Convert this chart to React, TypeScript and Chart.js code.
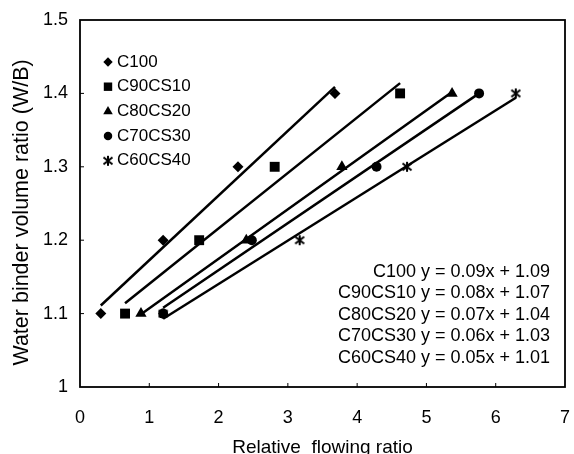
import React, { useEffect, useRef } from 'react';
import { Chart, registerables } from 'chart.js';
import { drawPoint } from 'chart.js/helpers';

Chart.register(...registerables);

const seriesNames = ['C100', 'C90CS10', 'C80CS20', 'C70CS30', 'C60CS40'];
const wbRatio = [1.1, 1.2, 1.3, 1.4];
const c100Flow = [0.3, 1.2, 2.28, 3.68];
const c90cs10Flow = [0.65, 1.72, 2.81, 4.62];
const c80cs20Flow = [0.88, 2.4, 3.78, 5.37];
const c70cs30Flow = [1.2, 2.48, 4.28, 5.76];
const c60cs40Flow = [1.2, 3.17, 4.72, 6.29];
const trendStartX = [0.3, 0.65, 0.88, 1.2, 1.2];
const trendStartY = [1.111, 1.114, 1.099, 1.108, 1.093];
const trendEndX = [3.68, 4.62, 5.37, 5.76, 6.29];
const trendEndY = [1.409, 1.414, 1.402, 1.4, 1.394];
const equations = [
  'y = 0.09x + 1.09',
  'y = 0.08x + 1.07',
  'y = 0.07x + 1.04',
  'y = 0.06x + 1.03',
  'y = 0.05x + 1.01',
];
const xTickLabels = ['0', '1', '2', '3', '4', '5', '6', '7'];
const yTickLabels = ['1', '1.1', '1.2', '1.3', '1.4', '1.5'];

const FONT = "'Liberation Sans', Arial, sans-serif";

function makeAsterisk(): HTMLCanvasElement {
  const c = document.createElement('canvas');
  c.width = 12;
  c.height = 12;
  const g = c.getContext('2d')!;
  g.strokeStyle = '#000';
  g.lineWidth = 2;
  g.beginPath();
  g.moveTo(6, 1); g.lineTo(6, 11);
  g.moveTo(1.5, 2.5); g.lineTo(10.5, 9.5);
  g.moveTo(1.5, 9.5); g.lineTo(10.5, 2.5);
  g.stroke();
  return c;
}

export default function App() {
  const ref = useRef<HTMLCanvasElement>(null);
  useEffect(() => {
    const flows = [c100Flow, c90cs10Flow, c80cs20Flow, c70cs30Flow, c60cs40Flow];
    const asterisk = makeAsterisk();
    const styles: any[] = ['rectRot', 'rect', 'triangle', 'circle', asterisk];
    const radii = [5.5, 7, 6.5, 5, 6];

    const scatterSets = flows.map((f, i) => ({
      label: seriesNames[i],
      data: f.map((x, j) => ({ x, y: wbRatio[j] })),
      showLine: false,
      pointStyle: styles[i],
      pointRadius: radii[i],
      backgroundColor: '#000',
      borderColor: '#000',
      borderWidth: 0,
      order: 1,
    }));
    const trendSets = seriesNames.map((n, i) => ({
      label: n + ' trend',
      data: [
        { x: trendStartX[i], y: trendStartY[i] },
        { x: trendEndX[i], y: trendEndY[i] },
      ],
      showLine: true,
      pointRadius: 0,
      borderColor: '#000',
      borderWidth: 2.5,
      order: 2,
    }));

    const overlay = {
      id: 'overlay',
      afterDatasetsDraw(chart: any) {
        const { ctx, chartArea: a, scales } = chart;
        ctx.save();
        ctx.strokeStyle = '#000';
        ctx.lineWidth = 1.8;
        ctx.strokeRect(a.left, a.top, a.right - a.left, a.bottom - a.top);
        ctx.lineWidth = 1;
        ctx.beginPath();
        for (let v = 1; v < 7; v++) {
          const px = scales.x.getPixelForValue(v);
          ctx.moveTo(px, a.bottom);
          ctx.lineTo(px, a.bottom - 4);
        }
        for (let k = 1; k < 5; k++) {
          const py = scales.y.getPixelForValue(1 + k / 10);
          ctx.moveTo(a.left, py);
          ctx.lineTo(a.left + 4, py);
        }
        ctx.stroke();

        // legend
        ctx.fillStyle = '#000';
        ctx.font = `17px ${FONT}`;
        ctx.textBaseline = 'middle';
        ctx.textAlign = 'left';
        const lx = a.left + 28;
        const ly = a.top + 42;
        seriesNames.forEach((n, i) => {
          const y = ly + i * 24.7;
          drawPoint(ctx, { pointStyle: styles[i], radius: radii[i] * 0.85, rotation: 0, borderWidth: 0 } as any, lx, y);
          ctx.fillStyle = '#000';
          ctx.fillText(n, lx + 9, y);
        });

        // equations
        ctx.font = `18px ${FONT}`;
        const ex = 421;
        const ey = 272;
        seriesNames.forEach((n, i) => {
          const y = ey + i * 21.4;
          ctx.textAlign = 'right';
          ctx.fillText(n, ex - 5, y);
          ctx.textAlign = 'left';
          ctx.fillText(equations[i], ex, y);
        });
        ctx.restore();
      },
    };

    const chart = new Chart(ref.current!, {
      type: 'scatter',
      data: { datasets: [...trendSets, ...scatterSets] as any },
      options: {
        animation: false,
        responsive: false,
        layout: { padding: { top: 20, right: 9, left: 0, bottom: 0 } },
        plugins: { legend: { display: false }, tooltip: { enabled: false } },
        scales: {
          x: {
            type: 'linear',
            min: 0,
            max: 7,
            ticks: {
              stepSize: 1,
              color: '#000',
              font: { family: FONT, size: 18 },
              padding: 3,
              callback: (_v: any, i: number) => xTickLabels[i],
            },
            grid: { display: false, drawTicks: true, tickLength: 17 },
            border: { display: false },
            title: {
              display: true,
              text: 'Relative  flowing ratio',
              color: '#000',
              font: { family: FONT, size: 19, lineHeight: 1 },
              padding: { top: 0, bottom: -3 },
            },
            afterFit: (s: any) => { s.height = 67; },
          },
          y: {
            type: 'linear',
            min: 1,
            max: 1.5,
            ticks: {
              stepSize: 0.1,
              color: '#000',
              font: { family: FONT, size: 18 },
              padding: 3,
              callback: (_v: any, i: number) => yTickLabels[i],
            },
            grid: { display: false, drawTicks: true, tickLength: 9 },
            border: { display: false },
            title: {
              display: true,
              text: 'Water binder volume ratio (W/B)   ',
              color: '#000',
              font: { family: FONT, size: 21.5 },
              padding: { top: 9, bottom: 0 },
            },
            afterFit: (s: any) => { s.width = 80; },
          },
        },
      } as any,
      plugins: [overlay],
    });
    return () => chart.destroy();
  }, []);

  return (
    <div style={{ position: 'fixed', left: 0, top: 0, width: 574, height: 454, background: '#fff' }}>
      <canvas ref={ref} width={574} height={454} style={{ width: 574, height: 454 }} />
    </div>
  );
}
